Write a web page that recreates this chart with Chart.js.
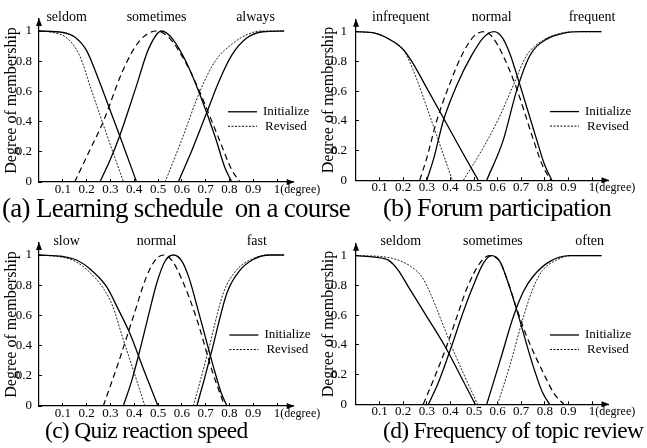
<!DOCTYPE html>
<html>
<head>
<meta charset="utf-8">
<script src="https://cdn.jsdelivr.net/npm/chart.js@4.4.0/dist/chart.umd.min.js"></script>
<style>
  body { margin: 0; background: #fff; width: 647px; height: 448px; position: relative; overflow: hidden; }
  .panel { position: absolute; }
  .panel canvas { position: absolute; left: 0; top: 0; }
  .cap { position: absolute; font-family: 'Liberation Serif', serif; line-height: 26px; letter-spacing: -0.7px; white-space: pre; color: #000; }
</style>
</head>
<body>
<div class="panel" style="left:0;top:0;width:330px;height:224px"><canvas id="chartA" width="330" height="200"></canvas></div>
<div class="panel" style="left:320px;top:0;width:327px;height:224px"><canvas id="chartB" width="327" height="200"></canvas></div>
<div class="panel" style="left:0;top:224px;width:330px;height:224px"><canvas id="chartC" width="330" height="200"></canvas></div>
<div class="panel" style="left:320px;top:224px;width:327px;height:224px"><canvas id="chartD" width="327" height="200"></canvas></div>
<div class="cap" style="left:2px;top:195px;font-size:27px">(a) Learning schedule  on a course</div>
<div class="cap" style="left:383px;top:195px;font-size:26px">(b) Forum participation</div>
<div class="cap" style="left:45px;top:417px;font-size:23.5px">(c) Quiz reaction speed</div>
<div class="cap" style="left:383px;top:417px;font-size:23.5px">(d) Frequency of topic review</div>
<script>
// ticks and series names
const xTicks = [0.1, 0.2, 0.3, 0.4, 0.5, 0.6, 0.7, 0.8, 0.9, 1];
const yTicks = [0, 0.2, 0.4, 0.6, 0.8, 1];
const seriesNames = ["Initialize", "Revised"];

// (a) learning schedule
const termsA = ["seldom", "sometimes", "always"];
const aSeldomInit = [[0,1],[0.1,0.99],[0.15,0.96],[0.2,0.87],[0.25,0.68],[0.3,0.47],[0.35,0.26],[0.41,0]];
const aSeldomRev = [[0,1],[0.06,0.99],[0.12,0.95],[0.17,0.84],[0.22,0.61],[0.27,0.38],[0.355,0]];
const aSometimesInit = [[0.256,0],[0.3,0.15],[0.34,0.31],[0.41,0.64],[0.46,0.88],[0.515,1],[0.56,0.95],[0.62,0.79],[0.676,0.58],[0.74,0.3],[0.78,0.1],[0.81,0]];
const aSometimesRev = [[0.15,0],[0.21,0.2],[0.27,0.4],[0.35,0.73],[0.42,0.93],[0.494,1],[0.55,0.95],[0.62,0.78],[0.68,0.58],[0.76,0.27],[0.81,0.08],[0.845,0]];
const aAlwaysInit = [[0.585,0],[0.64,0.2],[0.7,0.44],[0.76,0.68],[0.81,0.84],[0.87,0.95],[0.94,0.995],[1.03,1]];
const aAlwaysRev = [[0.53,0],[0.6,0.28],[0.676,0.6],[0.74,0.8],[0.816,0.92],[0.88,0.98],[0.93,1],[1.03,1]];

// (b) forum participation
const termsB = ["infrequent", "normal", "frequent"];
const bInfreqInit = [[0,1],[0.08,0.99],[0.14,0.95],[0.2,0.88],[0.24,0.79],[0.3,0.62],[0.377,0.4],[0.45,0.19],[0.518,0]];
const bInfreqRev = [[0,1],[0.08,0.99],[0.14,0.95],[0.2,0.88],[0.24,0.75],[0.32,0.4],[0.408,0]];
const bNormalInit = [[0.3,0],[0.33,0.15],[0.37,0.4],[0.43,0.65],[0.49,0.84],[0.54,0.96],[0.585,1],[0.62,0.96],[0.65,0.86],[0.695,0.64],[0.766,0.27],[0.8,0.1],[0.83,0]];
const bNormalRev = [[0.27,0],[0.3,0.15],[0.342,0.4],[0.4,0.66],[0.448,0.84],[0.5,0.97],[0.545,1],[0.58,0.96],[0.62,0.85],[0.68,0.62],[0.75,0.28],[0.79,0.1],[0.825,0]];
const bFreqInit = [[0.554,0],[0.624,0.27],[0.68,0.6],[0.737,0.84],[0.808,0.95],[0.88,0.99],[0.95,1],[1.04,1]];
const bFreqRev = [[0.455,0],[0.525,0.18],[0.6,0.4],[0.667,0.64],[0.723,0.84],[0.79,0.94],[0.87,0.99],[0.95,1],[1.04,1]];

// (c) quiz reaction speed
const termsC = ["slow", "normal", "fast"];
const cSlowInit = [[0,1],[0.1,0.99],[0.16,0.965],[0.22,0.9],[0.284,0.79],[0.33,0.65],[0.382,0.48],[0.44,0.24],[0.5,0]];
const cSlowRev = [[0,1],[0.1,0.985],[0.155,0.955],[0.21,0.89],[0.27,0.78],[0.31,0.66],[0.35,0.46],[0.4,0.22],[0.445,0]];
const cNormalInit = [[0.354,0],[0.39,0.17],[0.424,0.37],[0.46,0.6],[0.494,0.81],[0.53,0.96],[0.565,1],[0.6,0.96],[0.63,0.85],[0.676,0.59],[0.74,0.22],[0.765,0.09],[0.79,0]];
const cNormalRev = [[0.27,0],[0.33,0.27],[0.396,0.59],[0.45,0.85],[0.49,0.97],[0.525,1],[0.56,0.96],[0.6,0.84],[0.662,0.58],[0.73,0.22],[0.78,0]];
const cFastInit = [[0.663,0],[0.695,0.18],[0.725,0.36],[0.79,0.75],[0.845,0.9],[0.9,0.97],[0.97,1],[1.03,1]];
const cFastRev = [[0.648,0],[0.68,0.18],[0.71,0.36],[0.775,0.75],[0.83,0.9],[0.89,0.97],[0.96,1],[1.03,1]];

// (d) frequency of topic review
const termsD = ["seldom", "sometimes", "often"];
const dSeldomInit = [[0,1],[0.08,0.99],[0.137,0.97],[0.18,0.9],[0.222,0.79],[0.3,0.59],[0.377,0.39],[0.44,0.2],[0.505,0]];
const dSeldomRev = [[0,1],[0.1,0.995],[0.17,0.975],[0.23,0.93],[0.278,0.86],[0.314,0.75],[0.36,0.57],[0.405,0.39],[0.46,0.19],[0.515,0]];
const dSometimesInit = [[0.307,0],[0.35,0.15],[0.405,0.39],[0.45,0.6],[0.49,0.77],[0.54,0.95],[0.575,1],[0.61,0.96],[0.64,0.84],[0.68,0.64],[0.75,0.26],[0.79,0.08],[0.82,0]];
const dSometimesRev = [[0.285,0],[0.33,0.17],[0.384,0.39],[0.43,0.6],[0.47,0.78],[0.525,0.95],[0.565,1],[0.61,0.96],[0.64,0.84],[0.68,0.65],[0.72,0.47],[0.8,0.19],[0.84,0.07],[0.88,0]];
const dOftenInit = [[0.554,0],[0.61,0.29],[0.667,0.59],[0.71,0.76],[0.75,0.86],[0.82,0.96],[0.907,1],[1.04,1]];
const dOftenRev = [[0.6,0],[0.65,0.25],[0.71,0.59],[0.75,0.78],[0.79,0.9],[0.85,0.97],[0.91,1],[1.04,1]];

const FONT = "'Liberation Serif', 'Times New Roman', serif";
Chart.defaults.font.family = FONT;
Chart.defaults.color = "#000";

const DOT = [2, 1.5];
const DASH = [6, 4];

// layout of each panel (pixels inside its canvas)
const panels = [
  { id: "chartA", terms: termsA, termAt: [0.116, 0.494, 0.91], legendAt: [0.794, 0.465],
    ox: 39, ux: 238, tickPad: 10, titlePad: 3.7,
    pairs: [[aSeldomInit, aSeldomRev, DOT], [aSometimesInit, aSometimesRev, DASH], [aAlwaysInit, aAlwaysRev, DOT]] },
  { id: "chartB", terms: termsB, termAt: [0.19, 0.575, 1.0], legendAt: [0.822, 0.462],
    ox: 36, ux: 236, tickPad: 12, titlePad: 0.3,
    pairs: [[bInfreqInit, bInfreqRev, DOT], [bNormalInit, bNormalRev, DASH], [bFreqInit, bFreqRev, DOT]] },
  { id: "chartC", terms: termsC, termAt: [0.116, 0.494, 0.915], legendAt: [0.8, 0.47],
    ox: 39, ux: 238, tickPad: 10, titlePad: 3.7,
    pairs: [[cSlowInit, cSlowRev, DOT], [cNormalInit, cNormalRev, DASH], [cFastInit, cFastRev, DOT]] },
  { id: "chartD", terms: termsD, termAt: [0.19, 0.58, 0.99], legendAt: [0.822, 0.466],
    ox: 36, ux: 236, tickPad: 12, titlePad: 0.3,
    pairs: [[dSeldomInit, dSeldomRev, DOT], [dSometimesInit, dSometimesRev, DASH], [dOftenInit, dOftenRev, DOT]] },
];

const X_MAX = 1.07, Y_MAX = 1.08;
const AXIS_Y = 182, AXIS_H = 18;

// arrows, term names, "(degree)" and the legend
const decor = {
  id: "decor",
  afterDraw(chart, args, o) {
    const { ctx, chartArea: a, scales: { x, y } } = chart;
    ctx.save();
    ctx.fillStyle = "#000";
    ctx.beginPath();
    ctx.moveTo(a.left, a.top - 1); ctx.lineTo(a.left - 3, a.top + 7); ctx.lineTo(a.left + 3, a.top + 7);
    ctx.fill();
    ctx.beginPath();
    ctx.moveTo(a.right + 1, a.bottom); ctx.lineTo(a.right - 7, a.bottom - 3); ctx.lineTo(a.right - 7, a.bottom + 3);
    ctx.fill();

    ctx.font = "14px " + FONT;
    ctx.textAlign = "center";
    ctx.textBaseline = "middle";
    o.terms.forEach((t, i) => ctx.fillText(t, x.getPixelForValue(o.termAt[i]), 17));

    ctx.font = "13px " + FONT;
    const p1 = x.getPixelForValue(1) + ctx.measureText("1").width / 2;
    ctx.font = "12px " + FONT;
    ctx.textAlign = "left";
    ctx.fillText("(degree)", p1, x.top + 8);

    // legend
    ctx.font = "13px " + FONT;
    const lx = x.getPixelForValue(o.legendAt[0]);
    let ly = y.getPixelForValue(o.legendAt[1]);
    seriesNames.forEach((name, i) => {
      ctx.beginPath();
      ctx.lineWidth = i ? 1 : 1.3;
      ctx.setLineDash(i ? DOT : []);
      ctx.moveTo(lx, ly); ctx.lineTo(lx + 29, ly);
      ctx.stroke();
      ctx.fillText(name, lx + 35 + (i ? 2 : 0), ly);
      ly += 14.5;
    });
    ctx.restore();
  },
};

panels.forEach((p) => {
  const canvas = document.getElementById(p.id);
  const W = canvas.width;
  const datasets = [];
  p.pairs.forEach(([init, rev, dash]) => {
    datasets.push({
      label: seriesNames[0],
      data: init.map(([x, y]) => ({ x, y })),
      borderColor: "#000", borderWidth: 1.3,
      pointRadius: 0, fill: false, cubicInterpolationMode: "monotone",
    });
    datasets.push({
      label: seriesNames[1],
      data: rev.map(([x, y]) => ({ x, y })),
      borderColor: dash === DASH ? "#000" : "#222", borderWidth: dash === DASH ? 1.2 : 1,
      borderDash: dash,
      pointRadius: 0, fill: false, cubicInterpolationMode: "monotone",
    });
  });

  new Chart(canvas, {
    type: "line",
    data: { datasets },
    plugins: [decor],
    options: {
      responsive: false,
      animation: false,
      layout: { padding: { left: 0, top: AXIS_Y - Y_MAX * 151, bottom: 0, right: W - (p.ox + X_MAX * p.ux) } },
      plugins: {
        legend: { display: false },
        tooltip: { enabled: false },
        decor: p,
      },
      scales: {
        x: {
          type: "linear", min: 0, max: X_MAX,
          afterBuildTicks: (s) => { s.ticks = xTicks.map((v) => ({ value: v })); },
          afterFit: (s) => { s.height = AXIS_H; },
          grid: { drawOnChartArea: false, tickLength: -3, color: "#000" },
          border: { color: "#000", width: 1.2 },
          ticks: { padding: 3, font: { size: 13 }, maxRotation: 0,
                   callback: (v) => (v === 1 ? "1" : v.toFixed(1)) },
        },
        y: {
          min: 0, max: Y_MAX,
          afterBuildTicks: (s) => { s.ticks = yTicks.map((v) => ({ value: v })); },
          afterFit: (s) => { s.width = p.ox; },
          grid: { drawOnChartArea: false, tickLength: -3, color: "#000" },
          border: { color: "#000", width: 1.2 },
          ticks: { padding: p.tickPad, font: { size: 13 },
                   callback: (v) => (v === 0 || v === 1 ? String(v) : v.toFixed(1)) },
          title: { display: true, text: "Degree of membership", font: { size: 16, lineHeight: 1 },
                   padding: { top: p.titlePad, bottom: 0 } },
        },
      },
    },
  });
});
</script>
</body>
</html>
